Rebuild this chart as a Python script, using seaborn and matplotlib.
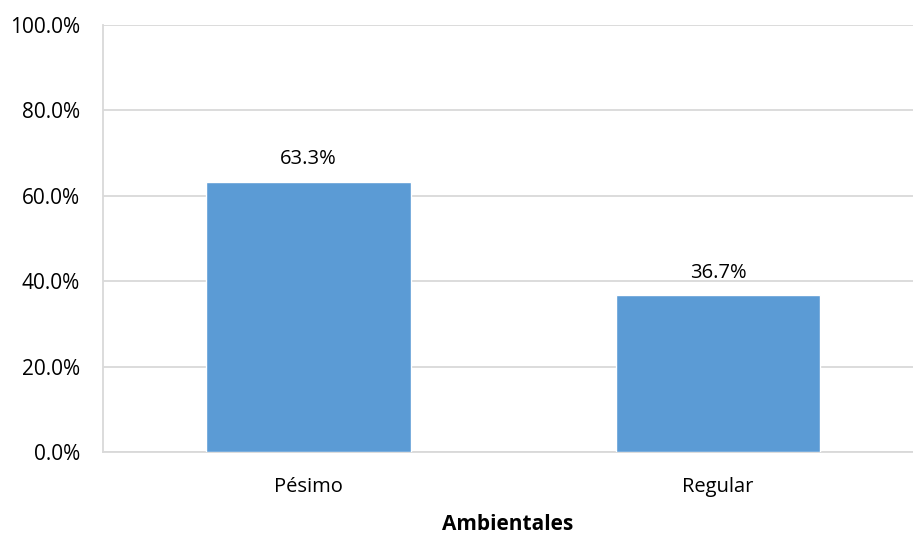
import matplotlib
matplotlib.use("Agg")
from matplotlib import pyplot as plt
from matplotlib.ticker import PercentFormatter
import pandas as pd
import seaborn as sns

# data
categories = ['Pésimo', 'Regular']
values = [63.3, 36.7]
labels = ['63.3%', '36.7%']
xlabel = 'Ambientales'

df = pd.DataFrame({'cat': categories, 'val': values})

sns.set_theme(style="white")
plt.rcParams['font.family'] = ['Open Sans', 'DejaVu Sans']
plt.rcParams['text.color'] = 'black'

fig = plt.figure(figsize=(9.13, 5.33), dpi=100)
ax = fig.add_axes([0.1128, 0.152, 0.887, 0.801])

sns.barplot(ax=ax, data=df, x='cat', y='val', color='#5B9BD5', width=0.5,
            saturation=1, zorder=3)

ax.set_ylim(0, 100)
ax.set_xlim(-0.502, 1.476)
ax.set_yticks([0, 20, 40, 60, 80, 100])
ax.yaxis.set_major_formatter(PercentFormatter(decimals=1))
ax.grid(True, axis='y', color='#D9D9D9', linewidth=1.3, zorder=0)
ax.set_axisbelow(True)

for s in ['top', 'right']:
    ax.spines[s].set_visible(False)
for s in ['left', 'bottom']:
    ax.spines[s].set_color('#D9D9D9')
    ax.spines[s].set_linewidth(1.3)

ax.tick_params(axis='y', left=False, labelsize=15, colors='black', pad=10.5)
ax.tick_params(axis='x', bottom=False, labelsize=14.5, colors='black', pad=12)
ax.set_xlabel(xlabel, fontsize=15, fontweight='bold', labelpad=12, color='black')
ax.set_ylabel('')

for p, lab in zip(ax.patches, labels):
    ax.annotate(lab, (p.get_x() + p.get_width() / 2, p.get_height()),
                xytext=(0, 9), textcoords='offset points',
                ha='center', va='bottom', fontsize=14.5, color='black')

plt.savefig('out.png', dpi=100)
